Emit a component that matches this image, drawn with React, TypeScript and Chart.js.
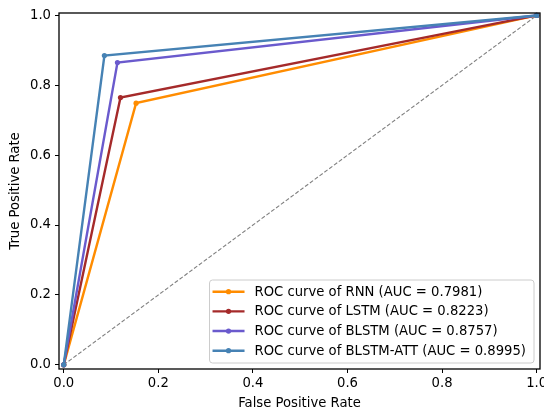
import React, { useEffect, useRef } from "react";
import { Chart, registerables } from "chart.js";
Chart.register(...registerables);

const models = ["RNN", "LSTM", "BLSTM", "BLSTM-ATT"];
const aucValues = ["0.7981", "0.8223", "0.8757", "0.8995"];
const fprValues = [0.153, 0.12, 0.1136, 0.086];
const tprValues = [0.749, 0.765, 0.865, 0.885];
const colors = ["#ff8c00", "#a52a2a", "#6a5acd", "#4682b4"];
const tickValues = [0, 0.2, 0.4, 0.6, 0.8, 1.0];

const FONT = "DejaVu Sans";
const FS = 13.2;

const framePlugin = {
  id: "frame",
  afterDatasetsDraw(chart: any) {
    const { ctx, chartArea: a } = chart;
    ctx.save();
    ctx.strokeStyle = "#000";
    ctx.lineWidth = 1.3;
    ctx.strokeRect(a.left, a.top, a.right - a.left, a.bottom - a.top);
    ctx.restore();
  },
};

const legendPlugin = {
  id: "mplLegend",
  afterDraw(chart: any) {
    const { ctx, chartArea: a } = chart;
    const labels = models.map((m, i) => `ROC curve of ${m} (AUC = ${aucValues[i]})`);
    ctx.save();
    ctx.font = `${FS}px "${FONT}"`;
    const tw = Math.max(...labels.map((l) => ctx.measureText(l).width));
    const w = 45 + tw + 8;
    const rowGap = 19.67;
    const h = 83;
    const right = a.right - 6;
    const bottom = a.bottom - 6;
    const left = right - w;
    const top = bottom - h;
    ctx.beginPath();
    ctx.roundRect(left, top, w, h, 3);
    ctx.fillStyle = "rgba(255,255,255,0.8)";
    ctx.fill();
    ctx.strokeStyle = "#cccccc";
    ctx.lineWidth = 1;
    ctx.stroke();
    labels.forEach((l, i) => {
      const y = top + 11.7 + i * rowGap;
      ctx.strokeStyle = colors[i];
      ctx.lineWidth = 2.4;
      ctx.beginPath();
      ctx.moveTo(left + 3, y);
      ctx.lineTo(left + 35, y);
      ctx.stroke();
      ctx.fillStyle = colors[i];
      ctx.beginPath();
      ctx.arc(left + 19, y, 2.6, 0, Math.PI * 2);
      ctx.fill();
      ctx.fillStyle = "#000";
      ctx.textBaseline = "middle";
      ctx.textAlign = "left";
      ctx.fillText(l, left + 45, y + 0.5);
    });
    ctx.restore();
  },
};

export default function App() {
  const ref = useRef<HTMLCanvasElement>(null);
  useEffect(() => {
    if (!ref.current) return;
    const seriesSets = models.map((m, i) => ({
      label: `ROC curve of ${m} (AUC = ${aucValues[i]})`,
      data: [
        { x: 0, y: 0 },
        { x: fprValues[i], y: tprValues[i] },
        { x: 1, y: 1 },
      ],
      borderColor: colors[i],
      backgroundColor: colors[i],
      borderWidth: 2.4,
      pointRadius: 2.6,
      pointBorderWidth: 0,
      pointBackgroundColor: colors[i],
      tension: 0,
      clip: 6,
    }));
    const diagonal = {
      label: "chance",
      data: [
        { x: 0, y: 0 },
        { x: 1, y: 1 },
      ],
      borderColor: "#808080",
      borderWidth: 1.1,
      borderDash: [4, 2],
      pointRadius: 0,
      tension: 0,
    };
    const tickCfg = {
      color: "#000",
      font: { family: FONT, size: FS },
      autoSkip: false,
      maxRotation: 0,
      callback: (v: any) => Number(v).toFixed(1),
    };
    const gridCfg = {
      display: true,
      drawOnChartArea: false,
      drawTicks: true,
      tickLength: 4,
      color: "#000",
      lineWidth: 1,
    };
    const chart = new Chart(ref.current, {
      type: "line",
      data: { datasets: [...seriesSets.slice().reverse(), diagonal] as any },
      options: {
        animation: false,
        responsive: false,
        layout: { padding: { top: 13, right: 4, left: 0, bottom: 0 } },
        plugins: { legend: { display: false }, tooltip: { enabled: false } },
        scales: {
          x: {
            type: "linear",
            min: -0.01,
            max: 1.007,
            afterBuildTicks: (s: any) => {
              s.ticks = tickValues.map((v) => ({ value: v }));
            },
            afterFit: (s: any) => {
              s.height = 45;
              s.paddingLeft = 0;
              s.paddingRight = 0;
            },
            ticks: { ...tickCfg, padding: 3 },
            grid: gridCfg,
            border: { display: false },
            title: {
              display: true,
              text: "False Positive Rate",
              color: "#000",
              font: { family: FONT, size: FS },
              padding: { top: 0, bottom: 3 },
            },
          },
          y: {
            type: "linear",
            min: -0.012,
            max: 1.007,
            afterBuildTicks: (s: any) => {
              s.ticks = tickValues.map((v) => ({ value: v }));
            },
            afterFit: (s: any) => {
              s.width = 59;
              s.paddingTop = 0;
              s.paddingBottom = 0;
            },
            ticks: { ...tickCfg, padding: 4 },
            grid: gridCfg,
            border: { display: false },
            title: {
              display: true,
              text: "True Positive Rate",
              color: "#000",
              font: { family: FONT, size: FS },
              padding: { top: 8, bottom: 0 },
            },
          },
        },
      },
      plugins: [framePlugin, legendPlugin],
    });
    return () => chart.destroy();
  }, []);
  return (
    <div style={{ position: "fixed", left: 0, top: 0 }}>
      <canvas ref={ref} width={544} height={414} />
    </div>
  );
}
